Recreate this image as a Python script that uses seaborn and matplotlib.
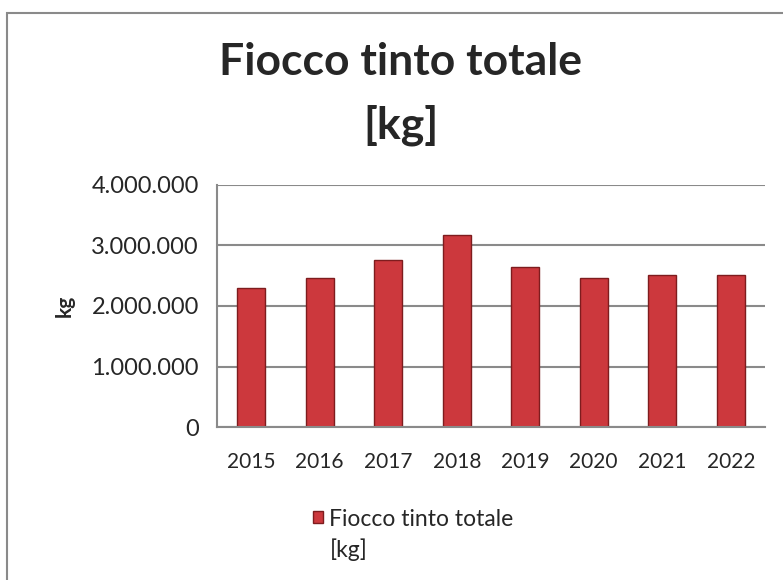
import matplotlib
matplotlib.use('Agg')
import matplotlib.pyplot as plt
import matplotlib.ticker as mticker
from matplotlib.patches import Rectangle
import pandas as pd
import seaborn as sns

# dati
anni = ['2015', '2016', '2017', '2018', '2019', '2020', '2021', '2022']
fiocco_kg = [2300000, 2460000, 2760000, 3180000, 2650000, 2460000, 2510000, 2510000]
serie = 'Fiocco tinto totale'
unita = '[kg]'

df = pd.DataFrame({'Anno': anni, 'kg': fiocco_kg})

sns.set_style('white')
plt.rcParams['font.family'] = ['Lato', 'DejaVu Sans']

fig = plt.figure(figsize=(7.83, 5.8), dpi=100)
ax = fig.add_axes([217 / 783, 1 - 427 / 580, (765 - 217) / 783, (427 - 185) / 580])

sns.barplot(data=df, x='Anno', y='kg', color='#CC383D', width=0.41,
            edgecolor='#7E1C1E', linewidth=1.0, saturation=1, ax=ax, label=serie)

ax.set_ylim(0, 4000000)
ax.set_xlim(-0.5, len(anni) - 0.5)
ax.yaxis.set_major_locator(mticker.MultipleLocator(1000000))
ax.yaxis.set_major_formatter(mticker.FuncFormatter(lambda v, p: f'{int(v):,}'.replace(',', '.')))
ax.grid(axis='y', color='#8a8a8a', linewidth=1.5)
ax.set_axisbelow(True)

for s in ['top', 'right']:
    ax.spines[s].set_visible(False)
for s in ['left', 'bottom']:
    ax.spines[s].set_color('#8a8a8a')
    ax.spines[s].set_linewidth(1.5)

ax.set_xticks([i - 0.5 for i in range(len(anni) + 1)], minor=True)
ax.tick_params(axis='x', which='major', length=0, pad=18, labelsize=15)
ax.tick_params(axis='x', which='minor', length=7, width=1.5, color='#8a8a8a', direction='out')
ax.tick_params(axis='y', length=7, width=1.5, color='#8a8a8a', direction='out', labelsize=17, pad=6)

ax.set_xlabel('')
ax.set_ylabel('kg', fontsize=15, fontweight='bold', labelpad=12)

fig.text(0.512, 1 - 62 / 580, 'Fiocco tinto totale', ha='center', va='center',
         fontsize=32, fontweight='bold')
fig.text(0.512, 1 - 125 / 580, '[kg]', ha='center', va='center',
         fontsize=32, fontweight='bold')

leg = ax.legend(loc='center left', bbox_to_anchor=(292 / 783, 1 - 519 / 580),
                bbox_transform=fig.transFigure, frameon=False, fontsize=16.5,
                handlelength=0.45, handleheight=0.45, handletextpad=0.25)
fig.text(330 / 783, 1 - 550 / 580, unita, ha='left', va='center', fontsize=16.5)

# bordo esterno del grafico
fig.patches.append(Rectangle((7 / 783, -0.1), 1.2, 1 - 13 / 580 + 0.1,
                             transform=fig.transFigure, fill=False,
                             edgecolor='#8a8a8a', linewidth=1.5))

fig.savefig('out.png', dpi=100)
